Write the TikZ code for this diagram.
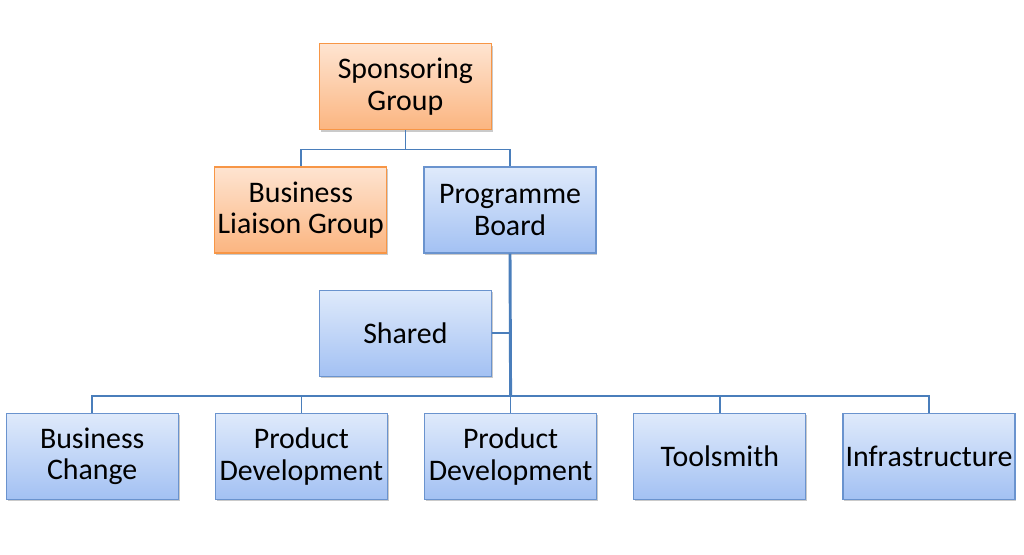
\documentclass[tikz,border=0pt]{standalone}
\usepackage{fontspec}
\setmainfont{Carlito}
\usetikzlibrary{positioning, calc, shadows}
\definecolor{OR_TOP}{HTML}{FEE4D1}
\definecolor{OR_BOT}{HTML}{FBB580}
\definecolor{OR_LINE}{HTML}{F79646}
\definecolor{BL_TOP}{HTML}{DFEAFB}
\definecolor{BL_BOT}{HTML}{A3C1F3}
\definecolor{BL_LINE}{HTML}{6A93CE}
\definecolor{LINK}{HTML}{4A7EBB}
\tikzset{
  unit/.style={
    rectangle, minimum width=129pt, minimum height=64.5pt,
    inner sep=0.5pt, text centered, align=center,
    font=\fontsize{22.4}{23.5}\selectfont, line width=0.9pt,
    drop shadow={shadow xshift=1pt, shadow yshift=-1.5pt, opacity=0.35, fill=black!60}},
  orng/.style={unit, draw=OR_LINE, top color=OR_TOP, bottom color=OR_BOT},
  blue/.style={unit, draw=BL_LINE, top color=BL_TOP, bottom color=BL_BOT},
  link/.style={draw=LINK, line width=1.1pt},
  trunk/.style={draw=LINK, line width=2.2pt},
}
\begin{document}
\begin{tikzpicture}[node distance=27pt]
  \useasboundingbox (0,0) rectangle (768pt,-416.25pt);

  % upper part
  \node[blue] (pb) at (382.5pt,-157.5pt) {Programme\\Board};
  \node[orng, left=of pb] (bl) {Business\\Liaison Group};
  \node[orng, above=of $(bl.north)!0.5!(pb.north)$] (sg) {Sponsoring\\Group};
  \node[blue, below=of $(bl.south)!0.5!(pb.south)$] (sh) {Shared};

  % work streams
  \node[blue, below=of sh, xshift=-78pt] (pd1) {Product\\Development};
  \node[blue, left=of pd1] (bc) {Business\\Change};
  \node[blue, right=of pd1] (pd2) {Product\\Development};
  \node[blue, right=of pd2] (ts) {Toolsmith};
  \node[blue, right=of ts] (inf) {Infrastructure};

  % connectors
  \draw[link] (sg.south) -- ++(0,-14.25pt) -| (bl.north);
  \draw[link] (sg.south) -- ++(0,-14.25pt) -| (pb.north);
  \coordinate (bus) at ($(pd2.north)+(0,12.75pt)$);
  \foreach \n in {bc,pd1,pd2,ts,inf}
    \draw[link] (bus) -| (\n.north);
  \draw[link] (sh.east) -- (sh.east -| pb.south);
  \draw[trunk] (pb.south) -- (bus);

\end{tikzpicture}
\end{document}
